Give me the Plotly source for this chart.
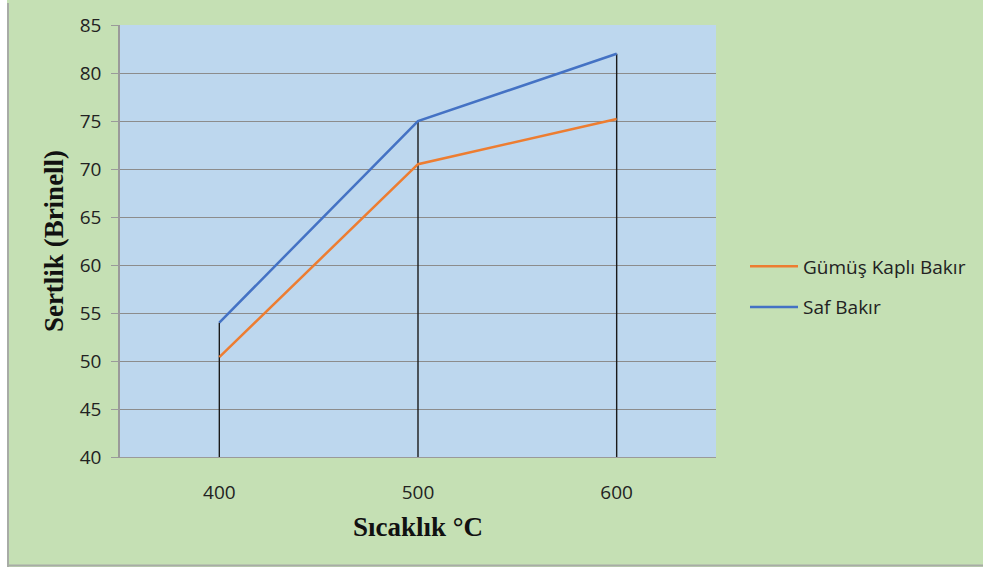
import plotly.graph_objects as go

categories = ["400", "500", "600"]
gumus = [50.4, 70.5, 75.2]
saf = [54.0, 75.0, 82.0]
y_ticks = [40, 45, 50, 55, 60, 65, 70, 75, 80, 85]

W, H = 983, 567
L, R, T, B = 120, 267, 25, 110
pw, ph = W - L - R, H - T - B

def px_x(x):
    return (x - L) / pw

def px_y(y):
    return (H - B - y) / ph

# drop lines from axis minimum to the highest series value
drop_x, drop_y = [], []
for c, a, b in zip(categories, gumus, saf):
    drop_x += [c, c, None]
    drop_y += [y_ticks[0], max(a, b), None]

fig = go.Figure()
fig.add_trace(go.Scatter(x=drop_x, y=drop_y, mode="lines",
                         line=dict(color="#1a1a1a", width=1.4),
                         showlegend=False, hoverinfo="skip"))
fig.add_trace(go.Scatter(x=categories, y=gumus, mode="lines", name="Gümüş Kaplı Bakır",
                         legendgroup="g1",
                         line=dict(color="#ED7D31", width=2.5)))
fig.add_trace(go.Scatter(x=categories, y=saf, mode="lines", name="Saf Bakır",
                         legendgroup="g2",
                         line=dict(color="#4472C4", width=2.5)))

serif = "'Liberation Serif', 'DejaVu Serif', serif"
sans = "'Open Sans', 'Noto Sans', sans-serif"

fig.update_layout(
    width=W, height=H,
    margin=dict(l=L, r=R, t=T, b=B),
    paper_bgcolor="#C5E0B4",
    plot_bgcolor="#BDD7EE",
    font=dict(family=sans, size=19, color="#222222"),
    xaxis=dict(type="category", range=[-0.5, 2.5], showgrid=False,
               showline=True, linecolor="#9a9a9a", linewidth=1,
               ticks="", ticklabelstandoff=18,
               tickfont=dict(family=sans, size=19, color="#222222"),
               title=dict(text="<b>Sıcaklık °C</b>", standoff=13,
                          font=dict(family=serif, size=27, color="#111111"))),
    yaxis=dict(range=[40, 85], tickvals=y_ticks, showgrid=True,
               gridcolor="#8c8c8c", gridwidth=1.3,
               showline=True, linecolor="#9a9a9a", linewidth=1.5,
               ticks="outside", ticklen=7, tickcolor="#9a9a9a",
               ticklabelstandoff=6,
               tickfont=dict(family=sans, size=19, color="#222222"), zeroline=False,
               title=dict(text="<b>Sertlik (Brinell)</b>", standoff=8,
                          font=dict(family=serif, size=27, color="#111111"))),
    legend=dict(x=px_x(745), y=px_y(287), xanchor="left", yanchor="middle",
                bgcolor="rgba(0,0,0,0)", traceorder="grouped", tracegroupgap=13,
                font=dict(family=sans, size=19, color="#222222"), itemwidth=48),
    showlegend=True,
    shapes=[
        dict(type="rect", xref="paper", yref="paper",
             x0=px_x(0), x1=px_x(7), y0=px_y(H), y1=px_y(0),
             fillcolor="white", line=dict(width=0), layer="below"),
        dict(type="line", xref="paper", yref="paper",
             x0=px_x(8), x1=px_x(8), y0=px_y(H), y1=px_y(3),
             line=dict(color="#a8aca6", width=2)),
        dict(type="line", xref="paper", yref="paper",
             x0=px_x(8), x1=px_x(W), y0=px_y(565.5), y1=px_y(565.5),
             line=dict(color="#a8aca6", width=2)),
    ],
)

fig.write_html("out.html")
